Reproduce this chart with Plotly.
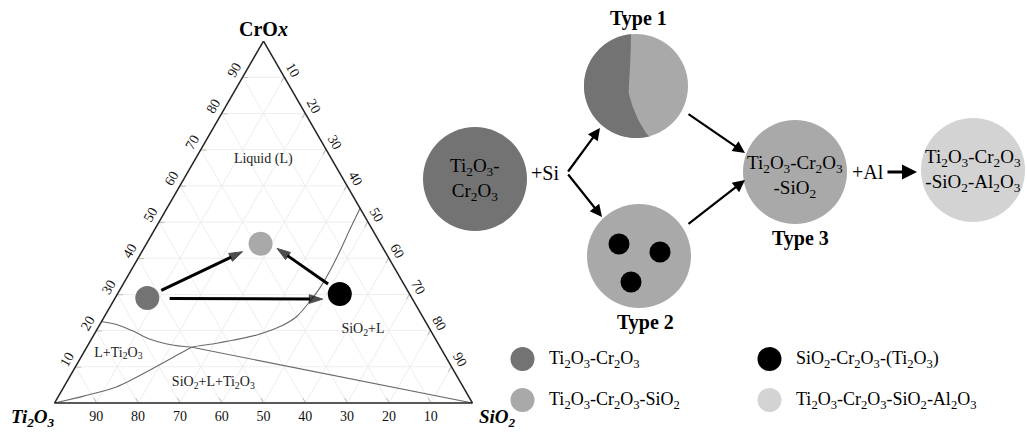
import re
import numpy as np
import plotly.graph_objects as go

FONT = "Liberation Serif"
DARK, MID, LIGHT, BLACK = "#737373", "#a9a9a9", "#d3d3d3", "#000000"

# ---------------- ternary data (percent): a = CrOx, b = Ti2O3, c = SiO2 ----------------
point_names = ["Ti2O3-Cr2O3", "Ti2O3-Cr2O3-SiO2", "SiO2-Cr2O3-(Ti2O3)"]
point_a = [29.0, 44.0, 30.1]
point_b = [63.3, 28.7, 16.7]
point_c = [7.7, 27.3, 53.2]

# boundary L / L+Ti2O3 : curved part, then straight to the SiO2 corner
bound1_a = [22.5, 21.6, 19.8, 17.6, 16.3, 15.6, 15.4]
bound1_b = [77.5, 74.2, 71.2, 68.3, 65.0, 61.3, 59.4]
bound1_c = [0.0, 4.2, 9.0, 14.1, 18.7, 23.1, 25.2]
bound1s_a = [15.4, 0.0]
bound1s_b = [59.4, 0.0]
bound1s_c = [25.2, 100.0]

# boundary L / SiO2+L (from the Ti2O3 corner to the right edge)
bound2_a = [0.0, 1.9, 4.5, 9.1, 14.2, 15.4, 16.5, 18.8, 21.1, 23.9, 28.1, 31.8, 36.4, 41.9, 47.9, 53.8]
bound2_b = [100.0, 92.0, 82.8, 72.5, 62.0, 59.4, 52.9, 42.2, 35.5, 30.1, 24.9, 20.6, 16.0, 10.8, 5.4, 0.0]
bound2_c = [0.0, 6.0, 12.7, 18.3, 23.8, 25.2, 30.6, 39.0, 43.4, 46.0, 47.1, 47.6, 47.7, 47.3, 46.7, 46.2]

# composition-change arrows
arrow_from_a = [31.1, 28.9, 32.9]
arrow_from_b = [58.9, 58.0, 18.1]
arrow_from_c = [10.0, 13.1, 49.0]
arrow_to_a = [41.8, 28.7, 42.7]
arrow_to_b = [34.1, 21.5, 25.4]
arrow_to_c = [24.1, 49.8, 31.9]

# phase-field labels
region_text = ["Liquid (L)", "L+Ti2O3", "SiO2+L+Ti2O3", "SiO2+L"]
region_a = [67.3, 13.8, 5.6, 20.2]
region_b = [16.4, 77.8, 59.2, 16.1]
region_c = [16.3, 8.4, 35.2, 63.7]

tick_values = [10, 20, 30, 40, 50, 60, 70, 80, 90]

# ---------------- schematic / legend texts ----------------
node_text = ["Ti2O3-<br>Cr2O3", "Ti2O3-Cr2O3<br>-SiO2", "Ti2O3-Cr2O3<br>-SiO2-Al2O3"]
type_text = ["Type 1", "Type 2", "Type 3"]
step_text = ["+Si", "+Al"]
legend_text = ["Ti2O3-Cr2O3", "Ti2O3-Cr2O3-SiO2", "SiO2-Cr2O3-(Ti2O3)", "Ti2O3-Cr2O3-SiO2-Al2O3"]
legend_color = [DARK, MID, BLACK, LIGHT]


def chem(s):
    return re.sub(r"(\d)", r"<sub>\1</sub>", s)


fig = go.Figure()

# ---- ternary traces ----
bline = dict(color="#6a6a6a", width=1.1)
fig.add_trace(go.Scatterternary(a=bound1_a, b=bound1_b, c=bound1_c, mode="lines",
                                line=dict(shape="spline", smoothing=0.8, **bline), showlegend=False))
fig.add_trace(go.Scatterternary(a=bound1s_a, b=bound1s_b, c=bound1s_c, mode="lines",
                                line=bline, showlegend=False))
fig.add_trace(go.Scatterternary(a=bound2_a, b=bound2_b, c=bound2_c, mode="lines",
                                line=dict(shape="spline", smoothing=0.8, **bline), showlegend=False))

fig.add_trace(go.Scatterternary(a=region_a, b=region_b, c=region_c, mode="text",
                                text=[chem(t) for t in region_text],
                                textfont=dict(family=FONT, size=14, color="#222"), showlegend=False))

for i in range(len(arrow_from_a)):
    fig.add_trace(go.Scatterternary(
        a=[arrow_from_a[i], arrow_to_a[i]], b=[arrow_from_b[i], arrow_to_b[i]],
        c=[arrow_from_c[i], arrow_to_c[i]], mode="lines+markers",
        line=dict(color="black", width=3),
        marker=dict(symbol="arrow", size=[0, 14], color="black", angleref="previous",
                    line=dict(width=1, color="black")),
        showlegend=False))

fig.add_trace(go.Scatterternary(a=point_a, b=point_b, c=point_c, mode="markers",
                                marker=dict(size=24, color=[DARK, MID, BLACK]),
                                text=point_names, showlegend=False))

axis_common = dict(tickvals=tick_values, ticks="inside", ticklen=5, tickcolor="#bbbbbb",
                   showgrid=True, gridcolor="#eeeeee", gridwidth=1,
                   showline=True, linecolor="#222", linewidth=1.5,
                   tickfont=dict(family=FONT, size=14, color="#111"), title=dict(text=""))

fig.update_layout(
    ternary=dict(
        domain=dict(x=[54 / 1027, 473 / 1027], y=[29 / 432, 391 / 432]),
        sum=100, bgcolor="white",
        aaxis=dict(tickangle=-60, **axis_common),
        baxis=dict(tickangle=0, **axis_common),
        caxis=dict(tickangle=60, **axis_common),
    )
)

# ---- cartesian canvas for the schematic (1 unit = 1 px) ----
legend_pos = dict(x=[522.5, 522.5, 769.5, 769.5], y=[359, 400, 359, 400])
fig.add_trace(go.Scatter(x=legend_pos["x"], y=legend_pos["y"], mode="markers",
                         marker=dict(size=24, color=legend_color), hoverinfo="skip",
                         showlegend=False, xaxis="x", yaxis="y"))

shapes = []
annotations = []


def circle(cx, cy, r, color):
    shapes.append(dict(type="circle", xref="x", yref="y", x0=cx - r, x1=cx + r,
                       y0=cy - r, y1=cy + r, fillcolor=color, line=dict(width=0), layer="above"))


def text(x, y, s, size=19, bold=False, xanchor="center"):
    if bold:
        s = "<b>" + s + "</b>"
    annotations.append(dict(x=x, y=y, xref="x", yref="y", text=s, showarrow=False,
                            xanchor=xanchor, yanchor="middle",
                            font=dict(family=FONT, size=size, color="black")))


def arrow(x0, y0, x1, y1, width=2.2, size=1.1):
    annotations.append(dict(x=x1, y=y1, ax=x0, ay=y0, xref="x", yref="y", axref="x", ayref="y",
                            text="", showarrow=True, arrowhead=2, arrowsize=size,
                            arrowwidth=width, arrowcolor="black", standoff=0, startstandoff=0))


# start particle
circle(475, 179, 52, DARK)
text(475, 179, chem(node_text[0]), size=19)
text(545, 173, step_text[0], size=20)

# Type 1 (two halves)
c1x, c1y, c1r = 636, 86, 52
circle(c1x, c1y, c1r, MID)
theta = np.radians(np.linspace(264.5, 74.8, 60))
arc = [(c1x + c1r * np.cos(t), c1y + c1r * np.sin(t)) for t in theta]
boundary = [(650, 137.5), (646, 133), (638.3, 120), (632.7, 106.7), (628.7, 93.3),
            (629, 83.3), (630, 66.7), (630.7, 50), (631, 34.5)]
pts = arc + boundary
path = "M " + " L ".join(f"{x:.1f},{y:.1f}" for x, y in pts) + " Z"
shapes.append(dict(type="path", xref="x", yref="y", path=path, fillcolor=DARK,
                   line=dict(width=0), layer="above"))
text(638, 18, type_text[0], size=20, bold=True)

# Type 2 (with black inclusions)
circle(639, 256, 52, MID)
for dx, dy in [(619, 244), (660, 252), (631, 282)]:
    circle(dx, dy, 10.5, BLACK)
text(645, 322, type_text[1], size=20, bold=True)

# Type 3
circle(795, 172, 52, MID)
text(795, 176, chem(node_text[1]), size=19)
text(800, 238, type_text[2], size=20, bold=True)

# final particle
circle(973, 170, 52, LIGHT)
text(973, 170, chem(node_text[2]), size=19)
text(868, 172, step_text[1], size=20)

# arrows of the schematic
arrow(567, 173, 600, 128)
arrow(567, 173, 602, 217)
arrow(687, 113, 745, 153)
arrow(687, 225, 745, 180)
arrow(886, 172, 917, 172, width=3, size=1.0)

# legend texts
for i, s in enumerate(legend_text):
    text(legend_pos["x"][i] + 24, legend_pos["y"][i], chem(s), size=18, xanchor="left")

# ternary vertex titles
text(263, 29, "CrO<i>x</i>", size=20, bold=True)
text(33, 418, "<i>" + chem("Ti2O3") + "</i>", size=19, bold=True)
text(497, 418, "<i>" + chem("SiO2") + "</i>", size=19, bold=True)

fig.update_layout(
    width=1027, height=432, margin=dict(l=0, r=0, t=0, b=0),
    paper_bgcolor="white", plot_bgcolor="rgba(0,0,0,0)",
    xaxis=dict(range=[0, 1027], domain=[0, 1], visible=False, fixedrange=True),
    yaxis=dict(range=[432, 0], domain=[0, 1], visible=False, fixedrange=True),
    shapes=shapes, annotations=annotations, showlegend=False,
    font=dict(family=FONT),
)

fig.write_html("out.html")
